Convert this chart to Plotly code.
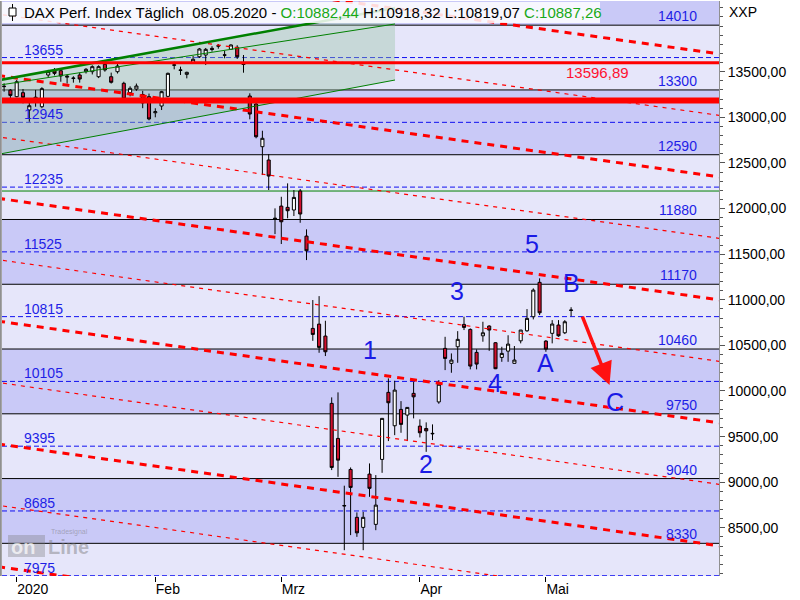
import plotly.graph_objects as go

# ---------------- data ----------------
dates = ["2019-12-27", "2019-12-30",
         "2020-01-02", "2020-01-03", "2020-01-06", "2020-01-07", "2020-01-08", "2020-01-09", "2020-01-10",
         "2020-01-13", "2020-01-14", "2020-01-15", "2020-01-16", "2020-01-17", "2020-01-20", "2020-01-21",
         "2020-01-22", "2020-01-23", "2020-01-24", "2020-01-27", "2020-01-28", "2020-01-29", "2020-01-30",
         "2020-01-31", "2020-02-03", "2020-02-04", "2020-02-05", "2020-02-06", "2020-02-07", "2020-02-10",
         "2020-02-11", "2020-02-12", "2020-02-13", "2020-02-14", "2020-02-17", "2020-02-18", "2020-02-19",
         "2020-02-20", "2020-02-21", "2020-02-24", "2020-02-25", "2020-02-26", "2020-02-27", "2020-02-28",
         "2020-03-02", "2020-03-03", "2020-03-04", "2020-03-05", "2020-03-06", "2020-03-09", "2020-03-10",
         "2020-03-11", "2020-03-12", "2020-03-13", "2020-03-16", "2020-03-17", "2020-03-18", "2020-03-19",
         "2020-03-20", "2020-03-23", "2020-03-24", "2020-03-25", "2020-03-26", "2020-03-27", "2020-03-30",
         "2020-03-31", "2020-04-01", "2020-04-02", "2020-04-03", "2020-04-06", "2020-04-07", "2020-04-08",
         "2020-04-09", "2020-04-14", "2020-04-15", "2020-04-16", "2020-04-17", "2020-04-20", "2020-04-21",
         "2020-04-22", "2020-04-23", "2020-04-24", "2020-04-27", "2020-04-28", "2020-04-29", "2020-04-30",
         "2020-05-04", "2020-05-05", "2020-05-06", "2020-05-07", "2020-05-08"]

opens = [13336, 13298,
         13226, 13270, 13080, 13200, 13116, 13464, 13511,
         13511, 13440, 13425, 13464, 13500, 13500, 13445,
         13581, 13445, 13500, 13373, 13270, 13310, 13250,
         13226, 13050, 13124, 13230, 13570, 13520, 13471,
         13599, 13664, 13683, 13756, 13780, 13685, 13746,
         13767, 13590, 13233, 13146, 12678, 12532, 11885,
         12027, 12013, 11984, 12192, 11698, 10686, 10733,
         10602, 9864, 9480, 8745, 9140, 8615, 8505,
         9089, 8538, 9250, 9985, 9619, 9798, 9736,
         9974, 9615, 9589, 9530, 9880, 10467, 10303,
         10485, 10730, 10675, 10423, 10605, 10712, 10529,
         10368, 10437, 10303, 10550, 10660, 10814, 11191,
         10547, 10632, 10723, 10638, 10882.44]

highs = [13373, 13310,
         13409, 13310, 13171, 13300, 13330, 13520, 13540,
         13520, 13468, 13450, 13490, 13540, 13570, 13570,
         13600, 13490, 13590, 13390, 13340, 13370, 13290,
         13260, 13099, 13290, 13490, 13610, 13555, 13500,
         13672, 13760, 13760, 13780, 13803, 13730, 13800,
         13790, 13683, 13263, 13160, 12853, 12597, 12002,
         12129, 12276, 12203, 12214, 11772, 10997, 11040,
         10770, 9930, 9985, 8962, 9162, 8669, 8675,
         9206, 9078, 9700, 10138, 10112, 9889, 9820,
         10101, 9689, 9656, 9634, 10119, 10594, 10412,
         10656, 10814, 10686, 10456, 10759, 10720, 10535,
         10485, 10611, 10493, 10668, 10898, 11125, 11235,
         10558, 10777, 10777, 10777, 10918.32]

lows = [13281, 13210,
        13220, 13153, 12952, 13116, 13100, 13440, 13460,
        13390, 13370, 13380, 13380, 13480, 13470, 13430,
        13500, 13370, 13480, 13190, 13230, 13290, 13100,
        12967, 13000, 13080, 13220, 13526, 13464, 13427,
        13590, 13650, 13573, 13720, 13752, 13647, 13740,
        13640, 13489, 12978, 12770, 12367, 12203, 11720,
        11611, 11893, 11918, 11844, 11435, 10550, 10419,
        10383, 9133, 9059, 8255, 8420, 8401, 8255,
        8840, 8474, 9103, 9451, 9516, 9542, 9451,
        9700, 9491, 9333, 9462, 9860, 10229, 10200,
        10309, 10668, 10237, 10237, 10540, 10440, 10240,
        10320, 10320, 10303, 10522, 10649, 10785, 10832,
        10430, 10522, 10594, 10624, 10819.07]

closes = [13340, 13240,
          13390, 13219, 13127, 13220, 13314, 13500, 13482,
          13453, 13450, 13430, 13420, 13526, 13555, 13555,
          13519, 13384, 13562, 13200, 13318, 13343, 13158,
          12982, 13061, 13281, 13482, 13575, 13515, 13493,
          13636, 13749, 13745, 13744, 13784, 13681, 13793,
          13664, 13579, 13036, 12787, 12770, 12356, 11893,
          11855, 11976, 12122, 11940, 11537, 10620, 10478,
          10430, 9162, 9242, 8741, 8943, 8445, 8615,
          8933, 8749, 9700, 9871, 10010, 9634, 9820,
          9936, 9542, 9563, 9535, 10074, 10357, 10339,
          10566, 10697, 10273, 10295, 10638, 10668, 10244,
          10412, 10514, 10339, 10668, 10796, 11106, 10857,
          10459, 10734, 10605, 10759, 10887.26]

month_names = {"2020-01": "2020", "2020-02": "Feb", "2020-03": "Mrz", "2020-04": "Apr", "2020-05": "Mai"}

levels_solid = [14010, 13300, 12590, 11880, 11170, 10460, 9750, 9040, 8330]
levels_dashed = [13655, 12945, 12235, 11525, 10815, 10105, 9395, 8685, 7975]
red_level_thin = 13596.89
red_level_thick = 13183
green_level = 12192

# descending red channel lines (value at left / right anchor)
trend_anchor_x = [-2.65, 110.5]
trend_left = [14801, 14128, 13455, 12782, 12109, 11436, 10763, 10090, 9417, 8744, 8071]
trend_right = [13705, 13031, 12357, 11683, 11009, 10335, 9661, 8987, 8313, 7639, 6965]

# green wedge (triangle tool)
green_x = [-2.65, 60.05]
green_upper_thick = [13409, 14199]
green_upper_thin = [13354, 14023]
green_lower = [12598, 13409]

wave_labels = ["1", "2", "3", "4", "5", "A", "B", "C"]
wave_x = [56.0, 64.97, 69.9, 75.9, 81.8, 83.97, 88.1, 95.0]
wave_y = [10448, 9198, 11099, 10090, 11611, 10303, 11180, 9882]

arrow_from = (89.7, 10832)
arrow_to = (94.1, 10065)

y_ticks = [8500, 9000, 9500, 10000, 10500, 11000, 11500, 12000, 12500, 13000, 13500]

# ---------------- geometry ----------------
W, H = 800, 600
ML, MR, MT, MB = 2, 81, 1, 24
PW, PH = W - ML - MR, H - MT - MB
X_RANGE = [-2.333, 111.476]
Y_RANGE = [7972, 14275]


def px(xp):
    return (xp - ML) / PW


def py(yp):
    return 1 - (yp - MT) / PH


base = dates.index("2020-01-02")
xi = [i - base for i in range(len(dates))]

tickvals, ticktext = [], []
seen = set()
for x, d in zip(xi, dates):
    m = d[:7]
    if m in month_names and m not in seen:
        seen.add(m)
        tickvals.append(x)
        ticktext.append(month_names[m])

FONT = "Liberation Sans, Arial, sans-serif"
LIGHT = "#E6E6FA"
DARK = "#C9C9F7"
BLUE = "#1E1EE6"

fig = go.Figure()

shapes = []
# bands
edges = [Y_RANGE[1]] + levels_solid + [Y_RANGE[0]]
for k in range(len(edges) - 1):
    shapes.append(dict(type="rect", xref="paper", yref="y", x0=0, x1=1, y0=edges[k + 1], y1=edges[k],
                       fillcolor=DARK if k % 2 == 0 else LIGHT, line=dict(width=0), layer="below"))

# green wedge fill
path = (f"M {green_x[0]},{green_upper_thick[0]} L {green_x[1]},{green_upper_thick[1]} "
        f"L {green_x[1]},{green_lower[1]} L {green_x[0]},{green_lower[0]} Z")
shapes.append(dict(type="path", xref="x", yref="y", path=path,
                   fillcolor="rgba(150,195,160,0.38)", line=dict(width=0), layer="below"))

for v in levels_solid:
    shapes.append(dict(type="line", xref="paper", yref="y", x0=0, x1=1, y0=v, y1=v,
                       line=dict(color="black", width=1), layer="below"))
for v in levels_dashed:
    shapes.append(dict(type="line", xref="paper", yref="y", x0=0, x1=1, y0=v, y1=v,
                       line=dict(color="#1010F0", width=1, dash="5px,3px"), layer="below"))
shapes.append(dict(type="line", xref="paper", yref="y", x0=0, x1=1, y0=green_level, y1=green_level,
                   line=dict(color="#008000", width=1), layer="below"))

fig.add_trace(go.Candlestick(
    x=xi, open=opens, high=highs, low=lows, close=closes,
    increasing=dict(line=dict(color="black", width=1), fillcolor="white"),
    decreasing=dict(line=dict(color="black", width=1), fillcolor="#D0102E"),
    whiskerwidth=0, showlegend=False, hoverinfo="skip"))

# trend lines
ext = [-5, 115]
for k, (l, r) in enumerate(zip(trend_left, trend_right)):
    slope = (r - l) / (trend_anchor_x[1] - trend_anchor_x[0])
    ys = [l + slope * (e - trend_anchor_x[0]) for e in ext]
    thick = (k % 2 == 0)
    fig.add_trace(go.Scatter(x=ext, y=ys, mode="lines", showlegend=False, hoverinfo="skip",
                             line=dict(color="#FF0000", width=3 if thick else 1.2,
                                       dash="7px,6px" if thick else "4px,5px")))

# green wedge lines
fig.add_trace(go.Scatter(x=green_x, y=green_upper_thick, mode="lines", showlegend=False, hoverinfo="skip",
                         line=dict(color="#008000", width=2.5)))
fig.add_trace(go.Scatter(x=green_x, y=green_upper_thin, mode="lines", showlegend=False, hoverinfo="skip",
                         line=dict(color="#008000", width=1)))
fig.add_trace(go.Scatter(x=green_x, y=green_lower, mode="lines", showlegend=False, hoverinfo="skip",
                         line=dict(color="#008000", width=1)))

# red horizontal levels (on top)
shapes.append(dict(type="line", xref="paper", yref="y", x0=0, x1=1, y0=red_level_thin, y1=red_level_thin,
                   line=dict(color="#FF0000", width=3), layer="above"))
shapes.append(dict(type="line", xref="paper", yref="y", x0=0, x1=1, y0=red_level_thick, y1=red_level_thick,
                   line=dict(color="#FF0000", width=6), layer="above"))

# left gray border
shapes.append(dict(type="line", xref="paper", yref="paper", x0=px(0.8), x1=px(0.8), y0=0, y1=1,
                   line=dict(color="#909090", width=2), layer="above"))

# title box + candle icon
shapes.append(dict(type="rect", xref="paper", yref="paper", x0=px(2), x1=px(600), y0=py(23), y1=py(2),
                   fillcolor="rgba(255,255,255,0.85)", line=dict(width=0), layer="above"))
shapes.append(dict(type="line", xref="paper", yref="paper", x0=px(12.5), x1=px(12.5), y0=py(21), y1=py(4),
                   line=dict(color="black", width=1), layer="above"))
shapes.append(dict(type="rect", xref="paper", yref="paper", x0=px(9), x1=px(16), y0=py(16), y1=py(8),
                   fillcolor="white", line=dict(color="black", width=1), layer="above"))

# watermark badge
shapes.append(dict(type="rect", xref="paper", yref="paper", x0=px(8), x1=px(45), y0=py(557), y1=py(535),
                   fillcolor="rgba(120,120,120,0.35)", line=dict(width=0), layer="above"))

annotations = []
for v in levels_dashed:
    annotations.append(dict(xref="paper", yref="y", x=px(21.5), y=v, yshift=8, xanchor="left", yanchor="middle",
                            text=f"{v}", showarrow=False, font=dict(family=FONT, size=14, color=BLUE)))
for v in levels_solid:
    annotations.append(dict(xref="paper", yref="y", x=px(698.5), y=v, yshift=9, xanchor="right", yanchor="middle",
                            text=f"{v}", showarrow=False, font=dict(family=FONT, size=14, color=BLUE)))
annotations.append(dict(xref="paper", yref="y", x=px(630.5), y=red_level_thin, yshift=-10, xanchor="right",
                        yanchor="middle", text=f"{red_level_thin:.2f}".replace(".", ","), showarrow=False,
                        font=dict(family=FONT, size=15, color="#FF1030")))

for t, x, y in zip(wave_labels, wave_x, wave_y):
    annotations.append(dict(x=x, y=y, text=t, showarrow=False, xanchor="center", yanchor="middle",
                            font=dict(family=FONT, size=25, color="#1A1AE6")))

annotations.append(dict(x=arrow_to[0], y=arrow_to[1], ax=arrow_from[0], ay=arrow_from[1],
                        axref="x", ayref="y", xref="x", yref="y", text="", showarrow=True,
                        arrowhead=2, arrowsize=1.3, arrowwidth=3.5, arrowcolor="#FF1010"))

title_html = ("DAX Perf. Index Täglich  08.05.2020 - "
              "<span style='color:#18A818'>O:10882,44</span> H:10918,32 L:10819,07 "
              "<span style='color:#18A818'>C:10887,26</span>")
annotations.append(dict(xref="paper", yref="paper", x=px(22), y=py(12.5), xanchor="left", yanchor="middle",
                        text=title_html, showarrow=False, font=dict(family=FONT, size=15, color="black")))

annotations.append(dict(xref="paper", yref="paper", x=px(727), y=py(12), xanchor="left", yanchor="middle",
                        text="XXP", showarrow=False, font=dict(family=FONT, size=14, color="black")))

# watermark text
annotations.append(dict(xref="paper", yref="paper", x=px(49), y=py(532), xanchor="left", yanchor="middle",
                        text="Tradesignal", showarrow=False,
                        font=dict(family=FONT, size=7, color="rgba(120,120,120,0.5)")))
annotations.append(dict(xref="paper", yref="paper", x=px(9), y=py(546.5), xanchor="left", yanchor="middle",
                        text="<b>on</b>", showarrow=False,
                        font=dict(family=FONT, size=20, color="rgba(255,255,255,0.7)")))
annotations.append(dict(xref="paper", yref="paper", x=px(46), y=py(547), xanchor="left", yanchor="middle",
                        text="<b>Line</b>", showarrow=False,
                        font=dict(family=FONT, size=20, color="rgba(120,120,120,0.45)")))

fig.update_layout(
    width=W, height=H,
    margin=dict(l=ML, r=MR, t=MT, b=MB, autoexpand=False),
    paper_bgcolor="white", plot_bgcolor=LIGHT,
    separators=",.",
    shapes=shapes, annotations=annotations,
    showlegend=False,
    xaxis=dict(range=X_RANGE, rangeslider=dict(visible=False), showgrid=False, zeroline=False,
               tickmode="array", tickvals=tickvals, ticktext=ticktext, ticks="outside", ticklen=5,
               tickcolor="black", ticklabelposition="outside right", showline=False,
               tickfont=dict(family=FONT, size=14, color="black")),
    yaxis=dict(range=Y_RANGE, side="right", showgrid=False, zeroline=False,
               tickmode="array", tickvals=y_ticks, tickformat=".2f", ticks="outside", ticklen=5,
               tickcolor="#555555", showline=True, linecolor="#909090", linewidth=1,
               minor=dict(tickmode="linear", tick0=0, dtick=100, ticks="outside", ticklen=3,
                          tickcolor="#555555"),
               tickfont=dict(family=FONT, size=14, color="black")),
)

fig.write_html("out.html", config={"displayModeBar": False},
               post_script="document.body.style.margin='0px';document.body.style.overflow='hidden';")
